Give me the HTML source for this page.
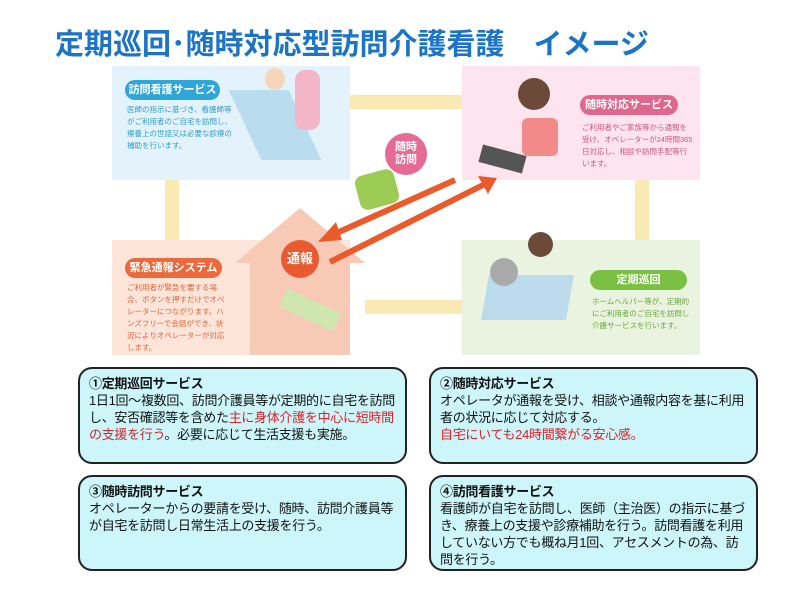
<!DOCTYPE html>
<html><head><meta charset="utf-8"><style>
*{margin:0;padding:0;box-sizing:border-box}
body{width:800px;height:600px;background:#fff;position:relative;overflow:hidden;font-family:"Liberation Sans","Noto Sans CJK JP",sans-serif}
.a{position:absolute}
.title{left:55px;top:21px;font-size:29px;font-weight:bold;color:#1b74c6;letter-spacing:0px;white-space:nowrap}
.box{position:absolute;border:2px solid #222;border-radius:14px;background:#cdf6fa;padding:6px 9px;font-size:13px;line-height:17px;color:#111;letter-spacing:-0.3px}
.box b{display:block}
.red{color:#e0202a}
.pill{position:absolute;color:#fff;font-size:11px;font-weight:bold;border-radius:10px;text-align:center;line-height:20px}
.ptxt{position:absolute;font-size:7.5px;line-height:12px}
</style></head><body>
<div class="a title">定期巡回･随時対応型訪問介護看護　イメージ</div>

<div class="a" style="left:350px;top:95px;width:115px;height:14px;background:#fbe9b4"></div>
<div class="a" style="left:165px;top:180px;width:14px;height:62px;background:#fbe9b4"></div>
<div class="a" style="left:635px;top:180px;width:14px;height:62px;background:#fbe9b4"></div>
<div class="a" style="left:365px;top:300px;width:100px;height:14px;background:#fbe9b4"></div>

<div class="a" style="left:112px;top:66px;width:238px;height:114px;background:#e4f3fb"></div>
<div class="pill" style="left:125px;top:80px;width:95px;background:#2ea6d8">訪問看護サービス</div>
<div class="ptxt" style="left:127px;top:104px;width:110px;color:#2a9fd0">医師の指示に基づき、看護師等がご利用者のご自宅を訪問し、療養上の世話又は必要な診療の補助を行います。</div>
<div class="a" style="left:245px;top:90px;width:60px;height:70px;background:#b9dcee;transform:skewX(25deg)"></div>
<div class="a" style="left:265px;top:68px;width:20px;height:22px;border-radius:50%;background:#f5d6b8"></div>
<div class="a" style="left:295px;top:70px;width:25px;height:60px;border-radius:10px;background:#f3b5c8"></div>

<div class="a" style="left:462px;top:66px;width:238px;height:114px;background:#fde4ee"></div>
<div class="pill" style="left:580px;top:95px;width:98px;background:#e0668e">随時対応サービス</div>
<div class="ptxt" style="left:582px;top:122px;width:112px;color:#d0557f">ご利用者やご家族等から通報を受け、オペレーターが24時間365日対応し、相談や訪問手配等行います。</div>
<div class="a" style="left:518px;top:78px;width:32px;height:32px;border-radius:50%;background:#6b4a3a"></div>
<div class="a" style="left:522px;top:118px;width:36px;height:38px;background:#f28a8a;border-radius:6px"></div>
<div class="a" style="left:480px;top:150px;width:45px;height:18px;background:#555;transform:rotate(15deg)"></div>

<div class="a" style="left:112px;top:240px;width:238px;height:115px;background:#fde5da"></div>
<div class="pill" style="left:125px;top:258px;width:97px;background:#ea6a3d">緊急通報システム</div>
<div class="ptxt" style="left:127px;top:282px;width:100px;color:#e0653a">ご利用者が緊急を要する場合、ボタンを押すだけでオペレーターにつながります。ハンズフリーで会話ができ、状況によりオペレーターが対応します。</div>
<div class="a" style="left:235px;top:208px;width:0;height:0;border-left:65px solid transparent;border-right:65px solid transparent;border-bottom:55px solid #f8c9b4"></div>
<div class="a" style="left:250px;top:262px;width:100px;height:93px;background:#f8c9b4"></div>
<div class="a" style="left:281px;top:240px;width:38px;height:38px;border-radius:50%;background:#e85a30;color:#fff;font-size:13px;line-height:38px;text-align:center;font-weight:bold">通報</div>
<div class="a" style="left:280px;top:300px;width:60px;height:20px;background:#cfe6b0;transform:rotate(25deg)"></div>

<div class="a" style="left:462px;top:240px;width:238px;height:115px;background:#eaf3e0"></div>
<div class="pill" style="left:590px;top:270px;width:97px;background:#7ac043">定期巡回</div>
<div class="ptxt" style="left:592px;top:296px;width:100px;color:#6aa83a">ホームヘルパー等が、定期的にご利用者のご自宅を訪問し介護サービスを行います。</div>
<div class="a" style="left:485px;top:275px;width:85px;height:45px;background:#bcdcee;transform:skewX(-10deg)"></div>
<div class="a" style="left:528px;top:232px;width:25px;height:25px;border-radius:50%;background:#6b4a3a"></div>
<div class="a" style="left:490px;top:258px;width:28px;height:28px;border-radius:50%;background:#aaa"></div>

<svg class="a" style="left:0;top:0" width="800" height="600">
<line x1="455" y1="180" x2="330" y2="236" stroke="#ea5a2a" stroke-width="6"/>
<polygon points="318,242 336,222 342,240" fill="#ea5a2a"/>
<line x1="330" y1="262" x2="485" y2="184" stroke="#ea5a2a" stroke-width="6"/>
<polygon points="497,178 478,176 488,194" fill="#ea5a2a"/>
</svg>
<div class="a" style="left:385px;top:133px;width:42px;height:42px;border-radius:50%;background:#e56b94;color:#fff;font-size:11px;line-height:13px;text-align:center;padding-top:8px;font-weight:bold">随時<br>訪問</div>
<div class="a" style="left:357px;top:172px;width:40px;height:35px;background:#9ccc54;border-radius:8px;transform:rotate(-15deg)"></div>

<div class="box" style="left:78px;top:367px;width:329px;height:97px"><b>①定期巡回サービス</b>1日1回～複数回、訪問介護員等が定期的に自宅を訪問し、安否確認等を含めた<span class="red">主に身体介護を中心に短時間の支援を行う</span>。必要に応じて生活支援も実施。</div>
<div class="box" style="left:429px;top:367px;width:329px;height:97px"><b>②随時対応サービス</b>オペレータが通報を受け、相談や通報内容を基に利用者の状況に応じて対応する。<br><span class="red">自宅にいても24時間繋がる安心感。</span></div>
<div class="box" style="left:78px;top:475px;width:329px;height:96px"><b>③随時訪問サービス</b>オペレーターからの要請を受け、随時、訪問介護員等が自宅を訪問し日常生活上の支援を行う。</div>
<div class="box" style="left:429px;top:475px;width:329px;height:96px"><b>④訪問看護サービス</b>看護師が自宅を訪問し、医師（主治医）の指示に基づき、療養上の支援や診療補助を行う。訪問看護を利用していない方でも概ね月1回、アセスメントの為、訪問を行う。</div>
</body></html>
